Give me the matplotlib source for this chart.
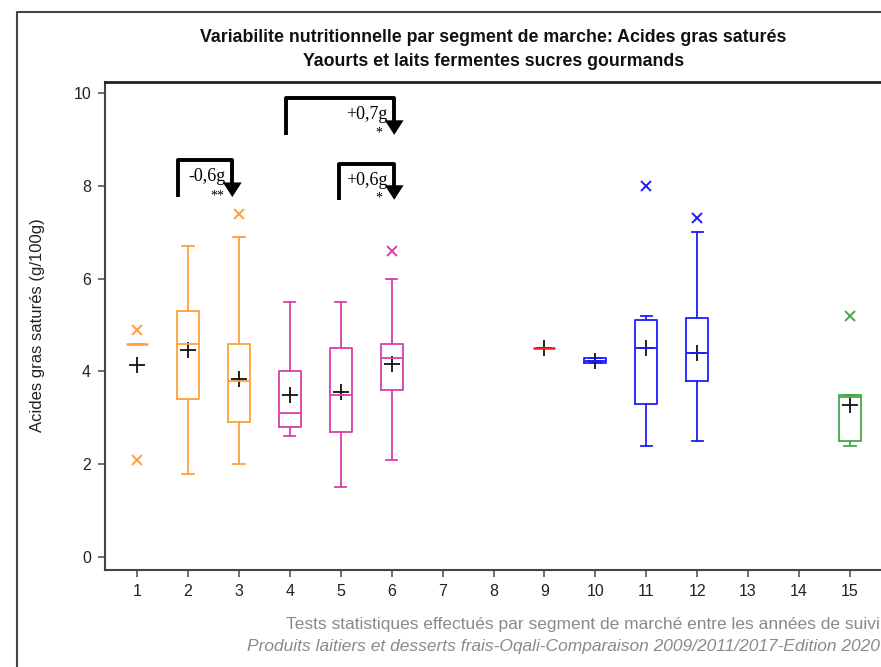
import numpy as np
import matplotlib
matplotlib.use("Agg")
import matplotlib.pyplot as plt
from matplotlib.lines import Line2D

plt.rcParams['font.family'] = ['Liberation Sans', 'DejaVu Sans']

# box statistics per market segment (g/100g)
segments = [1, 2, 3, 4, 5, 6, 9, 10, 11, 12, 15]
q1 = [4.6, 3.4, 2.9, 2.8, 2.7, 3.6, 4.5, 4.19, 3.3, 3.8, 2.5]
medians = [4.6, 4.6, 3.8, 3.1, 3.5, 4.3, 4.5, 4.22, 4.5, 4.4, 3.45]
q3 = [4.6, 5.3, 4.6, 4.0, 4.5, 4.6, 4.5, 4.3, 5.1, 5.15, 3.5]
whis_low = [4.6, 1.8, 2.0, 2.6, 1.5, 2.1, 4.5, 4.19, 2.4, 2.5, 2.4]
whis_high = [4.6, 6.7, 6.9, 5.5, 5.5, 6.0, 4.5, 4.3, 5.2, 7.0, 3.5]
means = [4.15, 4.46, 3.83, 3.49, 3.56, 4.16, 4.5, 4.23, 4.5, 4.4, 3.28]
outliers = [[4.9, 2.1], [], [7.4], [], [], [6.6], [], [], [8.0], [7.3], [5.2]]
groups = ['o', 'o', 'o', 'p', 'p', 'p', 'r', 'b', 'b', 'b', 'g']

group_colors = {'o': '#FFA03A', 'p': '#D83FA8', 'r': '#FF1A1A',
                'b': '#1E1EFF', 'g': '#46A846'}

# significance brackets: (x start, x end, top, bottom, label, stars)
brackets = [
    (1.8, 2.87, 8.56, 7.76, '-0,6g', '**'),
    (3.92, 6.05, 9.9, 9.1, '+0,7g', '*'),
    (4.97, 6.05, 8.47, 7.7, '+0,6g', '*'),
]

xticks = list(range(1, 16))
yticks = [0, 2, 4, 6, 8, 10]

W, H = 881, 667
fig = plt.figure(figsize=(W / 100, H / 100), dpi=100)
ax = fig.add_axes([105 / W, (H - 570) / H, (W - 105) / W, (570 - 82) / H])

for i, s in enumerate(segments):
    c = group_colors[groups[i]]
    st = [dict(med=medians[i], q1=q1[i], q3=q3[i], whislo=whis_low[i],
               whishi=whis_high[i], fliers=[])]
    lp = dict(color=c, linewidth=1.3)
    has_box = q3[i] > q1[i]
    ax.bxp(st, positions=[s], widths=0.43, showfliers=False,
           boxprops=dict(color=c, linewidth=1.3 if has_box else 0),
           medianprops=dict(color=c, linewidth=1.8 if not has_box else 1.3),
           whiskerprops=lp, capprops=lp, capwidths=0.22,
           manage_ticks=False)
    if outliers[i]:
        ax.plot([s] * len(outliers[i]), outliers[i], linestyle='none',
                marker='x', markersize=7, mew=1.4, color=c)
    ax.plot(s, means[i], marker='+', markersize=12, mew=1.3, color='#111111')

# brackets with arrows
for x0, x1, ytop, ybot, lab, stars in brackets:
    ax.plot([x0, x0, x1, x1], [ybot, ytop, ytop, ybot + 0.2], color='black',
            lw=2.8, solid_joinstyle='round', solid_capstyle='butt',
            clip_on=False)
    ax.annotate('', xy=(x1, ybot), xytext=(x1, ybot + 0.25),
                arrowprops=dict(arrowstyle='-|>,head_width=0.45,head_length=0.7',
                                color='black', lw=0, mutation_scale=15,
                                shrinkA=0, shrinkB=0))
    ax.text(x1 - 0.13, ytop - 0.36, lab, ha='right', va='center',
            family=['Liberation Serif', 'DejaVu Serif'], fontsize=13)
    ax.text(x1 - 0.3, ybot + 0.03, stars, ha='center', va='center',
            family=['Liberation Serif', 'DejaVu Serif'], fontsize=10)

ax.set_xlim(0.37, 15.61)
ax.set_ylim(-0.28, 10.24)
ax.set_xticks(xticks)
ax.set_xticklabels([str(t) for t in xticks])
ax.set_yticks(yticks)
ax.set_yticklabels([str(t) for t in yticks])
ax.tick_params(direction='out', length=5, width=1.2, color='#555555',
               labelsize=11.5, labelcolor='#222222', pad=5)
ax.spines['right'].set_visible(False)
for sp in ['left', 'bottom', 'top']:
    ax.spines[sp].set_color('#444444')
    ax.spines[sp].set_linewidth(1.5)
ax.spines['top'].set_color('#222222')
ax.spines['top'].set_linewidth(2)

ax.set_ylabel('Acides gras saturés (g/100g)', fontsize=12, color='#222222',
              labelpad=10)
ax.yaxis.set_label_coords(-(105 - 45) / (W - 105), (570 - 325) / (570 - 82))

# outer frame
fx = 17 / W
fy = 1 - 12 / H
fig.add_artist(Line2D([fx, fx, 1], [0, fy, fy], transform=fig.transFigure,
                      color='#444444', lw=1.5))

fig.text(493 / W, 1 - 38 / H,
         'Variabilite nutritionnelle par segment de marche: Acides gras saturés',
         ha='center', va='center', fontsize=12.8, fontweight='bold',
         color='#111111')
fig.text(494 / W, 1 - 62 / H, 'Yaourts et laits fermentes sucres gourmands',
         ha='center', va='center', fontsize=12.8, fontweight='bold',
         color='#111111')

fig.text(880 / W, 1 - 624 / H,
         'Tests statistiques effectués par segment de marché entre les années de suivi',
         ha='right', va='center', fontsize=12.5, color='#8a8a8a')
fig.text(880 / W, 1 - 647 / H,
         'Produits laitiers et desserts frais-Oqali-Comparaison 2009/2011/2017-Edition 2020',
         ha='right', va='center', fontsize=12.5, color='#8a8a8a', style='italic')

fig.savefig('out.png', dpi=100)
